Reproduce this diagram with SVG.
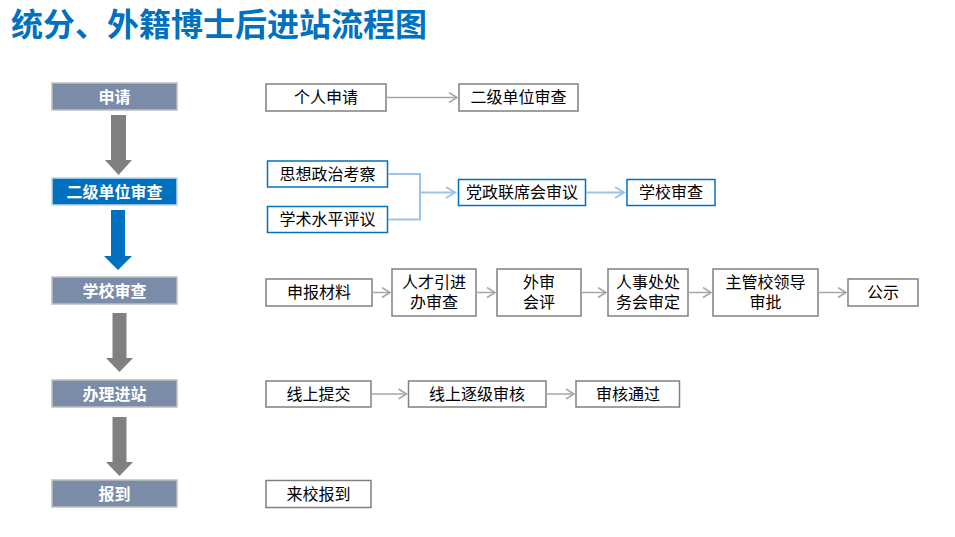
<svg xmlns="http://www.w3.org/2000/svg" width="955" height="537" viewBox="0 0 955 537">
<defs>
<style>
.stage{fill:#7A8CA8;stroke:#BFBFBF;stroke-width:1.5}
.stage.active{fill:#0070C0;stroke:#BDD7EE}
.stxt{font-family:"Noto Sans CJK SC","Noto Sans CJK JP",sans-serif;font-size:16px;font-weight:bold;fill:#fff;text-anchor:middle}
.box{fill:#fff;stroke:#808080;stroke-width:1.5}
.box.blue{stroke:#0070C0}
.txt{font-family:"Noto Sans CJK SC","Noto Sans CJK JP",sans-serif;font-size:16px;fill:#000;text-anchor:middle}
.ln{fill:none;stroke:#A6A6A6;stroke-width:1.5}
.lnb{fill:none;stroke:#9DC3E6;stroke-width:2}
.title{font-family:"Noto Sans CJK SC","Noto Sans CJK JP",sans-serif;font-size:32px;font-weight:bold;fill:#0070C0}
</style>
<marker id="ag" markerWidth="12" markerHeight="12" refX="10" refY="6" orient="auto" markerUnits="userSpaceOnUse"><path d="M2,1 L10,6 L2,11" fill="none" stroke="#A6A6A6" stroke-width="1.5"/></marker>
<marker id="ab" markerWidth="14" markerHeight="14" refX="11" refY="7" orient="auto" markerUnits="userSpaceOnUse"><path d="M2,1.5 L11,7 L2,12.5" fill="none" stroke="#9DC3E6" stroke-width="2"/></marker>
</defs>
<rect width="955" height="537" fill="#fff"/>
<text class="title" x="11" y="36">统分、外籍博士后进站流程图</text>

<g id="stages">
<g id="s1"><rect class="stage" x="52" y="83" width="125" height="27"/><text class="stxt" x="114.5" y="102.5">申请</text></g>
<g id="s2"><rect class="stage active" x="52" y="178" width="125" height="27"/><text class="stxt" x="114.5" y="197.5">二级单位审查</text></g>
<g id="s3"><rect class="stage" x="52" y="277" width="125" height="27"/><text class="stxt" x="114.5" y="296.5">学校审查</text></g>
<g id="s4"><rect class="stage" x="52" y="380" width="125" height="27"/><text class="stxt" x="114.5" y="399.5">办理进站</text></g>
<g id="s5"><rect class="stage" x="52" y="480" width="125" height="27"/><text class="stxt" x="114.5" y="499.5">报到</text></g>
</g>

<g id="stage-arrows">
<polygon points="111,115 126,115 126,160 132,160 118.5,175 105,160 111,160" fill="#808080"/>
<polygon points="111,210 125,210 125,256 132,256 118,270 104,256 111,256" fill="#0070C0"/>
<polygon points="112.5,313 126.5,313 126.5,358 133,358 119.5,372 106,358 112.5,358" fill="#808080"/>
<polygon points="112.5,417 126.5,417 126.5,462 133,462 119.5,476 106,462 112.5,462" fill="#808080"/>
</g>

<g id="n-geren"><rect class="box" x="266" y="84" width="120" height="27"/><text class="txt" x="326" y="103">个人申请</text></g>
<g id="n-erji"><rect class="box" x="459" y="84" width="119" height="27"/><text class="txt" x="518.5" y="103">二级单位审查</text></g>

<g id="n-sixiang"><rect class="box blue" x="267.5" y="161" width="120" height="26"/><text class="txt" x="327.5" y="179.5">思想政治考察</text></g>
<g id="n-xueshu"><rect class="box blue" x="267.5" y="206.5" width="120" height="26"/><text class="txt" x="327.5" y="225">学术水平评议</text></g>
<g id="n-dangzheng"><rect class="box blue" x="458.5" y="179.5" width="127" height="26"/><text class="txt" x="522" y="198">党政联席会审议</text></g>
<g id="n-xuexiao"><rect class="box blue" x="627" y="179.5" width="88" height="26"/><text class="txt" x="671" y="198">学校审查</text></g>

<g id="n-shenbao"><rect class="box" x="266" y="279" width="106" height="27"/><text class="txt" x="319" y="298">申报材料</text></g>
<g id="n-rencai"><rect class="box" x="392" y="269" width="84" height="47"/><text class="txt" x="434" y="288">人才引进<tspan x="434" dy="20">办审查</tspan></text></g>
<g id="n-waishen"><rect class="box" x="497" y="269" width="84" height="47"/><text class="txt" x="539" y="288">外审<tspan x="539" dy="20">会评</tspan></text></g>
<g id="n-renshi"><rect class="box" x="608" y="269" width="80" height="47"/><text class="txt" x="648" y="288">人事处处<tspan x="648" dy="20">务会审定</tspan></text></g>
<g id="n-zhuguan"><rect class="box" x="713" y="269" width="105" height="47"/><text class="txt" x="765.5" y="288">主管校领导<tspan x="765.5" dy="20">审批</tspan></text></g>
<g id="n-gongshi"><rect class="box" x="848" y="279" width="70" height="27"/><text class="txt" x="883" y="298">公示</text></g>

<g id="n-tijiao"><rect class="box" x="266" y="381" width="105" height="26"/><text class="txt" x="318.5" y="399.5">线上提交</text></g>
<g id="n-zhuji"><rect class="box" x="408.5" y="381" width="137.5" height="26"/><text class="txt" x="477" y="399.5">线上逐级审核</text></g>
<g id="n-tongguo"><rect class="box" x="576" y="381" width="103.5" height="26"/><text class="txt" x="628" y="399.5">审核通过</text></g>

<g id="n-laixiao"><rect class="box" x="266" y="480.5" width="105" height="27"/><text class="txt" x="318.5" y="499.5">来校报到</text></g>

<g id="connectors">
<line class="ln" x1="386" y1="97.5" x2="457" y2="97.5" marker-end="url(#ag)"/>
<polyline class="lnb" points="388,174 420,174 420,219.5 388,219.5"/>
<line class="lnb" x1="420" y1="192.5" x2="455" y2="192.5" marker-end="url(#ab)"/>
<line class="lnb" x1="586" y1="192.5" x2="624" y2="192.5" marker-end="url(#ab)"/>
<line class="ln" x1="372" y1="292.5" x2="390" y2="292.5" marker-end="url(#ag)"/>
<line class="ln" x1="476" y1="292.5" x2="495" y2="292.5" marker-end="url(#ag)"/>
<line class="ln" x1="581" y1="292.5" x2="606" y2="292.5" marker-end="url(#ag)"/>
<line class="ln" x1="688" y1="292.5" x2="711" y2="292.5" marker-end="url(#ag)"/>
<line class="ln" x1="818" y1="292.5" x2="846" y2="292.5" marker-end="url(#ag)"/>
<line class="ln" x1="371" y1="394" x2="406.5" y2="394" marker-end="url(#ag)"/>
<line class="ln" x1="546" y1="394" x2="574" y2="394" marker-end="url(#ag)"/>
</g>
</svg>
